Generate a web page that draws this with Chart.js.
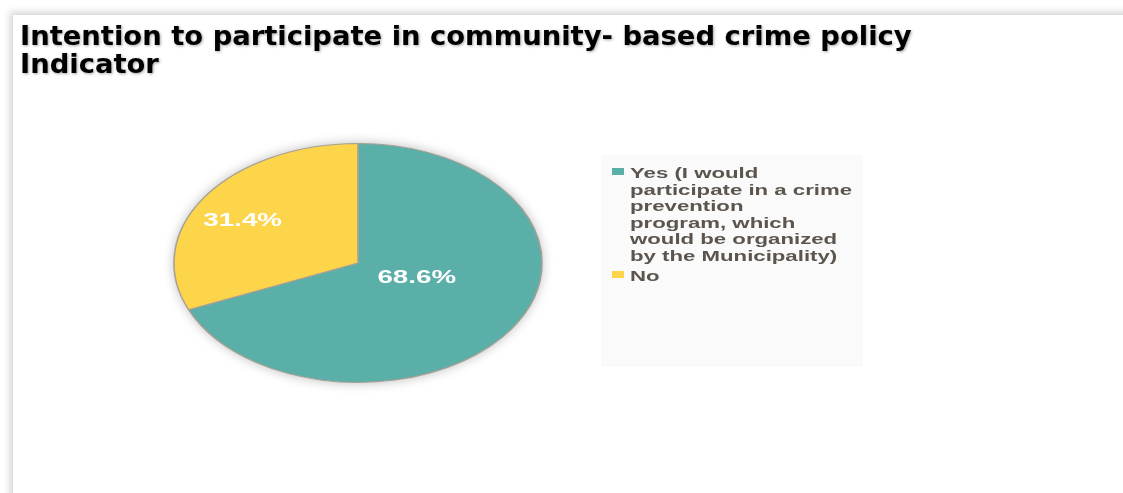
<!DOCTYPE html>
<html>
<head>
<meta charset="utf-8">
<title>Intention to participate in community-based crime policy</title>
<script src="https://cdn.jsdelivr.net/npm/chart.js@4.4.1/dist/chart.umd.min.js"></script>
<style>
  html, body { margin: 0; padding: 0; background: #fff; overflow: hidden; }
  .frame {
    position: absolute; left: 13px; top: 15px; width: 1200px; height: 600px;
    background: #fff; box-shadow: 0 0 7px 3px rgba(0, 0, 0, 0.17);
  }
  .wrap { position: absolute; left: 0; top: 0; width: 1123px; height: 493px; }
</style>
</head>
<body>
<div class="frame"></div>
<div class="wrap"><canvas id="gPie"></canvas></div>
<script>
// answers and shares (%)
var categories = [
  ['Yes (I would', 'participate in a crime', 'prevention', 'program, which', 'would be organized', 'by the Municipality)'],
  'No'
];
var shares = [68.6, 31.4];
var colors = ['#5aafa8', '#fdd54b'];
var titleLines = ['Intention to participate in community- based crime policy', 'Indicator'];

var SX = 1.54;   // horizontal stretch of the pie and its texts
// where the % labels sit: fraction of radius, turn from the slice middle (deg)
var labelPlace = [{ r: 0.343, turn: -12 }, { r: 0.72, turn: -4 }];

var ovalPie = {
  id: 'ovalPie',
  beforeDraw: function (chart) {
    // heading, left aligned, with a soft shadow
    var c = chart.ctx;
    c.save();
    c.shadowColor = 'rgba(0,0,0,0.35)';
    c.shadowBlur = 3;
    c.shadowOffsetX = 1;
    c.shadowOffsetY = 1;
    c.fillStyle = '#000';
    c.font = 'bold 27.4px "DejaVu Sans", Verdana, sans-serif';
    c.textBaseline = 'alphabetic';
    c.textAlign = 'left';
    titleLines.forEach(function (t, i) {
      c.fillText(t, 20, 45 + i * 28);
    });
    c.restore();
  },
  beforeDatasetsDraw: function (chart) {
    var c = chart.ctx;
    var arc = chart.getDatasetMeta(0).data[0];
    // blurred halo under the pie
    c.save();
    c.shadowColor = 'rgba(0,0,0,0.28)';
    c.shadowBlur = 12;
    c.fillStyle = '#fff';
    c.beginPath();
    c.ellipse(arc.x, arc.y, arc.outerRadius * SX, arc.outerRadius, 0, 0, Math.PI * 2);
    c.fill();
    c.restore();
    c.save();
    c.translate(arc.x, arc.y);
    c.scale(SX, 1);
    c.translate(-arc.x, -arc.y);
  },
  afterDatasetsDraw: function (chart) {
    var c = chart.ctx;
    c.restore();
    var ds = chart.data.datasets[0];
    chart.getDatasetMeta(0).data.forEach(function (arc, i) {
      var p = labelPlace[i];
      var a = (arc.startAngle + arc.endAngle) / 2 + p.turn * Math.PI / 180;
      var r = arc.outerRadius * p.r;
      c.save();
      c.translate(arc.x + Math.cos(a) * r * SX, arc.y + Math.sin(a) * r);
      c.scale(SX, 1);
      c.font = 'bold 18px "Liberation Sans", Arial, sans-serif';
      c.fillStyle = '#ffffff';
      c.textAlign = 'center';
      c.textBaseline = 'middle';
      c.fillText(ds.data[i].toFixed(1) + '%', 0, 0);
      c.restore();
    });
  },
  afterDraw: function (chart) {
    // legend panel to the right of the pie
    var c = chart.ctx;
    var box = { x: 601, y: 155, w: 262, h: 212 };
    var step = 16.6, gap = 3.4;
    c.save();
    c.fillStyle = '#fafafa';
    c.fillRect(box.x, box.y, box.w, box.h);
    var base = box.y + 23;
    chart.data.labels.forEach(function (lab, i) {
      var lines = Array.isArray(lab) ? lab : [lab];
      c.fillStyle = chart.data.datasets[0].backgroundColor[i];
      c.fillRect(box.x + 11, base - 10, 12, 7);
      c.fillStyle = '#5b554d';
      c.font = 'bold 14.8px "Liberation Sans", Arial, sans-serif';
      c.textBaseline = 'alphabetic';
      lines.forEach(function (ln) {
        c.save();
        c.translate(box.x + 29, base);
        c.scale(1.5, 1);
        c.fillText(ln, 0, 0);
        c.restore();
        base += step;
      });
      base += gap;
    });
    c.restore();
  }
};

var ctx = document.getElementById('gPie').getContext('2d');
var myChart = new Chart(ctx, {
  type: 'pie',
  data: {
    labels: categories,
    datasets: [{
      data: shares,
      backgroundColor: colors,
      borderColor: '#a89f93',
      borderWidth: 1,
      clip: false
    }]
  },
  options: {
    responsive: true,
    maintainAspectRatio: false,
    devicePixelRatio: 1,
    animation: false,
    layout: { padding: { left: 20, right: 427, top: 143, bottom: 110 } },
    plugins: {
      legend: { display: false },
      tooltip: { enabled: false },
      title: { display: false }
    }
  },
  plugins: [ovalPie]
});
</script>
</body>
</html>
